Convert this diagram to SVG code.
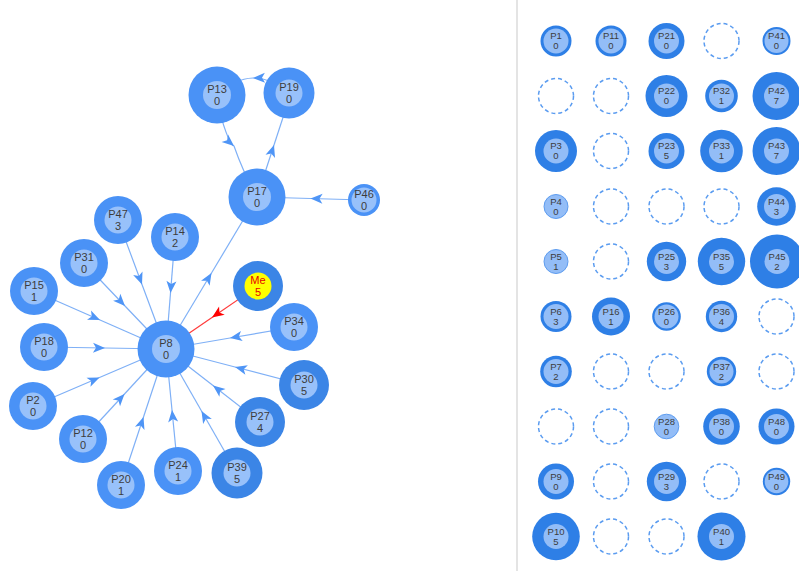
<svg xmlns="http://www.w3.org/2000/svg" width="799" height="571" viewBox="0 0 799 571">
<style>
text{font-family:"Liberation Sans",Arial,sans-serif;fill:#3c3c3c;text-anchor:middle}
.g text{font-size:11px}
.m text{font-size:9.5px}
.lo{fill:#4a92f6}
.ld{fill:#3b85e6}
.li{fill:#98c1fa}
.go{fill:#2e7fe6}
.gi{fill:#93bdf7}
.gs{fill:#93bdf7;stroke:#5d9cef;stroke-width:1}
.dash{fill:none;stroke:#5b9cf0;stroke-width:1.5;stroke-dasharray:4 3}
.e{fill:none;stroke:#7fb0f6;stroke-width:1.2;marker-mid:url(#ah)}
.er{fill:none;stroke:#ff3b3b;stroke-width:1.2;marker-mid:url(#ahr)}
.me text{fill:#e60000}
</style>
<defs>
<marker id="ah" viewBox="-13 -6 14 12" refX="0" refY="0" markerWidth="14" markerHeight="12" markerUnits="userSpaceOnUse" orient="auto">
<path d="M0,0 L-12,-5 L-9,0 L-12,5 Z" fill="#4f95f6"/>
</marker>
<marker id="ahr" viewBox="-13 -6 14 12" refX="0" refY="0" markerWidth="14" markerHeight="12" markerUnits="userSpaceOnUse" orient="auto">
<path d="M0,0 L-12,-5 L-9,0 L-12,5 Z" fill="#ff0000"/>
</marker>
</defs>
<rect width="799" height="571" fill="#ffffff"/>
<rect id="divider" x="516" y="0" width="2" height="571" fill="#e4e4e4"/>

<g id="connectors">
<path class="e" d="M118,220 L142,284.5 L166,349"/>
<path class="e" d="M175,237 L170.5,293 L166,349"/>
<path class="e" d="M84,263 L125,306 L166,349"/>
<path class="e" d="M34,291 L100,320 L166,349"/>
<path class="e" d="M44,347 L105,348 L166,349"/>
<path class="e" d="M33,406 L99.5,377.5 L166,349"/>
<path class="e" d="M83,439 L124.5,394 L166,349"/>
<path class="e" d="M121,485 L143.5,417 L166,349"/>
<path class="e" d="M178,471 L172,410 L166,349"/>
<path class="e" d="M237,473 L201.5,411 L166,349"/>
<path class="e" d="M260,422 L213,385.5 L166,349"/>
<path class="e" d="M304,385 L235,367 L166,349"/>
<path class="e" d="M294,327 L230,338 L166,349"/>
<path class="er" d="M258,286 L212,317.5 L166,349"/>
<path class="e" d="M166,349 L211.5,273 L257,197"/>
<path class="e" d="M364,200 L310.5,198.5 L257,197"/>
<path class="e" d="M215,95 Q228,145 234,146 Q243,172 257,197"/>
<path class="e" d="M257,197 L274,145 L291,93"/>
<path class="e" d="M289,93 Q271,77.5 253,78 Q235,78.5 217,95"/>
</g>

<g class="g">
<g id="node-P13"><circle class="lo" cx="217" cy="95" r="28.5"/><circle class="li" cx="217" cy="95" r="14"/><text x="217" y="92.5">P13</text><text x="217" y="104.5">0</text></g>
<g id="node-P19"><circle class="lo" cx="289" cy="93" r="25.5"/><circle class="li" cx="289" cy="93" r="13.5"/><text x="289" y="90.5">P19</text><text x="289" y="102.5">0</text></g>
<g id="node-P17"><circle class="lo" cx="257" cy="197" r="28.5"/><circle class="li" cx="257" cy="197" r="14"/><text x="257" y="194.5">P17</text><text x="257" y="206.5">0</text></g>
<g id="node-P46"><circle class="lo" cx="364" cy="200" r="16"/><circle class="li" cx="364" cy="200" r="12.5"/><text x="364" y="197.5">P46</text><text x="364" y="209.5">0</text></g>
<g id="node-P8"><circle class="lo" cx="166" cy="349" r="28.5"/><circle class="li" cx="166" cy="349" r="14"/><text x="166" y="346.5">P8</text><text x="166" y="358.5">0</text></g>
<g id="node-Me" class="me"><circle class="ld" cx="258" cy="286" r="25"/><circle fill="#ffff00" cx="258" cy="286" r="13.5"/><text x="258" y="283.5">Me</text><text x="258" y="295.5">5</text></g>
<g id="node-P34"><circle class="lo" cx="294" cy="327" r="24"/><circle class="li" cx="294" cy="327" r="13.5"/><text x="294" y="324.5">P34</text><text x="294" y="336.5">0</text></g>
<g id="node-P30"><circle class="ld" cx="304" cy="385" r="25"/><circle class="li" cx="304" cy="385" r="13.5"/><text x="304" y="382.5">P30</text><text x="304" y="394.5">5</text></g>
<g id="node-P27"><circle class="ld" cx="260" cy="422" r="25"/><circle class="li" cx="260" cy="422" r="13.5"/><text x="260" y="419.5">P27</text><text x="260" y="431.5">4</text></g>
<g id="node-P39"><circle class="ld" cx="237" cy="473" r="25.5"/><circle class="li" cx="237" cy="473" r="13.5"/><text x="237" y="470.5">P39</text><text x="237" y="482.5">5</text></g>
<g id="node-P24"><circle class="lo" cx="178" cy="471" r="24"/><circle class="li" cx="178" cy="471" r="13.5"/><text x="178" y="468.5">P24</text><text x="178" y="480.5">1</text></g>
<g id="node-P20"><circle class="lo" cx="121" cy="485" r="24"/><circle class="li" cx="121" cy="485" r="13.5"/><text x="121" y="482.5">P20</text><text x="121" y="494.5">1</text></g>
<g id="node-P12"><circle class="lo" cx="83" cy="439" r="24"/><circle class="li" cx="83" cy="439" r="13.5"/><text x="83" y="436.5">P12</text><text x="83" y="448.5">0</text></g>
<g id="node-P2"><circle class="lo" cx="33" cy="406" r="24"/><circle class="li" cx="33" cy="406" r="13.5"/><text x="33" y="403.5">P2</text><text x="33" y="415.5">0</text></g>
<g id="node-P18"><circle class="lo" cx="44" cy="347" r="24"/><circle class="li" cx="44" cy="347" r="13.5"/><text x="44" y="344.5">P18</text><text x="44" y="356.5">0</text></g>
<g id="node-P15"><circle class="lo" cx="34" cy="291" r="24"/><circle class="li" cx="34" cy="291" r="13.5"/><text x="34" y="288.5">P15</text><text x="34" y="300.5">1</text></g>
<g id="node-P31"><circle class="lo" cx="84" cy="263" r="24"/><circle class="li" cx="84" cy="263" r="13.5"/><text x="84" y="260.5">P31</text><text x="84" y="272.5">0</text></g>
<g id="node-P47"><circle class="lo" cx="118" cy="220" r="24"/><circle class="li" cx="118" cy="220" r="13.5"/><text x="118" y="217.5">P47</text><text x="118" y="229.5">3</text></g>
<g id="node-P14"><circle class="lo" cx="175" cy="237" r="24"/><circle class="li" cx="175" cy="237" r="13.5"/><text x="175" y="234.5">P14</text><text x="175" y="246.5">2</text></g>
</g>

<g class="m">
<g id="grid-P1"><circle class="go" cx="556" cy="41" r="15.5"/><circle class="gi" cx="556" cy="41" r="12.5"/><text x="556" y="39">P1</text><text x="556" y="49">0</text></g>
<g id="grid-P11"><circle class="go" cx="611" cy="41" r="15.5"/><circle class="gi" cx="611" cy="41" r="12.5"/><text x="611" y="39">P11</text><text x="611" y="49">0</text></g>
<g id="grid-P21"><circle class="go" cx="666.5" cy="41" r="18"/><circle class="gi" cx="666.5" cy="41" r="12.5"/><text x="666.5" y="39">P21</text><text x="666.5" y="49">0</text></g>
<circle class="dash" cx="721.5" cy="41" r="17.5"/>
<g id="grid-P41"><circle class="go" cx="776.5" cy="41" r="14"/><circle class="gi" cx="776.5" cy="41" r="12"/><text x="776.5" y="39">P41</text><text x="776.5" y="49">0</text></g>

<circle class="dash" cx="556" cy="96" r="17.5"/>
<circle class="dash" cx="611" cy="96" r="17.5"/>
<g id="grid-P22"><circle class="go" cx="666.5" cy="96" r="21"/><circle class="gi" cx="666.5" cy="96" r="12.5"/><text x="666.5" y="94">P22</text><text x="666.5" y="104">0</text></g>
<g id="grid-P32"><circle class="go" cx="721.5" cy="96" r="16.3"/><circle class="gi" cx="721.5" cy="96" r="12.5"/><text x="721.5" y="94">P32</text><text x="721.5" y="104">1</text></g>
<g id="grid-P42"><circle class="go" cx="776.5" cy="96" r="24"/><circle class="gi" cx="776.5" cy="96" r="12.5"/><text x="776.5" y="94">P42</text><text x="776.5" y="104">7</text></g>

<g id="grid-P3"><circle class="go" cx="556" cy="151" r="21"/><circle class="gi" cx="556" cy="151" r="12.5"/><text x="556" y="149">P3</text><text x="556" y="159">0</text></g>
<circle class="dash" cx="611" cy="151" r="17.5"/>
<g id="grid-P23"><circle class="go" cx="666.5" cy="151" r="18"/><circle class="gi" cx="666.5" cy="151" r="12.5"/><text x="666.5" y="149">P23</text><text x="666.5" y="159">5</text></g>
<g id="grid-P33"><circle class="go" cx="721.5" cy="151" r="21.3"/><circle class="gi" cx="721.5" cy="151" r="12.5"/><text x="721.5" y="149">P33</text><text x="721.5" y="159">1</text></g>
<g id="grid-P43"><circle class="go" cx="776.5" cy="151" r="24"/><circle class="gi" cx="776.5" cy="151" r="12.5"/><text x="776.5" y="149">P43</text><text x="776.5" y="159">7</text></g>

<g id="grid-P4"><circle class="gs" cx="556" cy="206.5" r="12"/><text x="556" y="204.5">P4</text><text x="556" y="214.5">0</text></g>
<circle class="dash" cx="611" cy="206.5" r="17.5"/>
<circle class="dash" cx="666.5" cy="206.5" r="17.5"/>
<circle class="dash" cx="721.5" cy="206.5" r="17.5"/>
<g id="grid-P44"><circle class="go" cx="776.5" cy="206.5" r="19.3"/><circle class="gi" cx="776.5" cy="206.5" r="12.5"/><text x="776.5" y="204.5">P44</text><text x="776.5" y="214.5">3</text></g>

<g id="grid-P5"><circle class="gs" cx="556" cy="261.5" r="12"/><text x="556" y="259.5">P5</text><text x="556" y="269.5">1</text></g>
<circle class="dash" cx="611" cy="261.5" r="17.5"/>
<g id="grid-P25"><circle class="go" cx="666.5" cy="261.5" r="19.7"/><circle class="gi" cx="666.5" cy="261.5" r="12.5"/><text x="666.5" y="259.5">P25</text><text x="666.5" y="269.5">3</text></g>
<g id="grid-P35"><circle class="go" cx="721.5" cy="261.5" r="23.7"/><circle class="gi" cx="721.5" cy="261.5" r="12.5"/><text x="721.5" y="259.5">P35</text><text x="721.5" y="269.5">5</text></g>
<g id="grid-P45"><circle class="go" cx="777" cy="261.5" r="27"/><circle class="gi" cx="777" cy="261.5" r="12.5"/><text x="777" y="259.5">P45</text><text x="777" y="269.5">2</text></g>

<g id="grid-P6"><circle class="go" cx="556" cy="316.5" r="15.5"/><circle class="gi" cx="556" cy="316.5" r="12.5"/><text x="556" y="314.5">P6</text><text x="556" y="324.5">3</text></g>
<g id="grid-P16"><circle class="go" cx="611" cy="316.5" r="19"/><circle class="gi" cx="611" cy="316.5" r="12.5"/><text x="611" y="314.5">P16</text><text x="611" y="324.5">1</text></g>
<g id="grid-P26"><circle class="go" cx="666.5" cy="316.5" r="14.3"/><circle class="gi" cx="666.5" cy="316.5" r="12"/><text x="666.5" y="314.5">P26</text><text x="666.5" y="324.5">0</text></g>
<g id="grid-P36"><circle class="go" cx="721.5" cy="316.5" r="15.7"/><circle class="gi" cx="721.5" cy="316.5" r="12.5"/><text x="721.5" y="314.5">P36</text><text x="721.5" y="324.5">4</text></g>
<circle class="dash" cx="776.5" cy="316.5" r="17.5"/>

<g id="grid-P7"><circle class="go" cx="556" cy="371.5" r="15.8"/><circle class="gi" cx="556" cy="371.5" r="12.5"/><text x="556" y="369.5">P7</text><text x="556" y="379.5">2</text></g>
<circle class="dash" cx="611" cy="371.5" r="17.5"/>
<circle class="dash" cx="666.5" cy="371.5" r="17.5"/>
<g id="grid-P37"><circle class="go" cx="721.5" cy="371.5" r="14.7"/><circle class="gi" cx="721.5" cy="371.5" r="12"/><text x="721.5" y="369.5">P37</text><text x="721.5" y="379.5">2</text></g>
<circle class="dash" cx="776.5" cy="371.5" r="17.5"/>

<circle class="dash" cx="556" cy="426.5" r="17.5"/>
<circle class="dash" cx="611" cy="426.5" r="17.5"/>
<g id="grid-P28"><circle class="gs" cx="666.5" cy="426.5" r="12.3"/><text x="666.5" y="424.5">P28</text><text x="666.5" y="434.5">0</text></g>
<g id="grid-P38"><circle class="go" cx="721.5" cy="426.5" r="18.3"/><circle class="gi" cx="721.5" cy="426.5" r="12.5"/><text x="721.5" y="424.5">P38</text><text x="721.5" y="434.5">0</text></g>
<g id="grid-P48"><circle class="go" cx="776.5" cy="426.5" r="18"/><circle class="gi" cx="776.5" cy="426.5" r="12.5"/><text x="776.5" y="424.5">P48</text><text x="776.5" y="434.5">0</text></g>

<g id="grid-P9"><circle class="go" cx="556" cy="481.5" r="18"/><circle class="gi" cx="556" cy="481.5" r="12.5"/><text x="556" y="479.5">P9</text><text x="556" y="489.5">0</text></g>
<circle class="dash" cx="611" cy="481.5" r="17.5"/>
<g id="grid-P29"><circle class="go" cx="666.5" cy="481.5" r="19.7"/><circle class="gi" cx="666.5" cy="481.5" r="12.5"/><text x="666.5" y="479.5">P29</text><text x="666.5" y="489.5">3</text></g>
<circle class="dash" cx="721.5" cy="481.5" r="17.5"/>
<g id="grid-P49"><circle class="go" cx="776.5" cy="481.5" r="13.7"/><circle class="gi" cx="776.5" cy="481.5" r="11.8"/><text x="776.5" y="479.5">P49</text><text x="776.5" y="489.5">0</text></g>

<g id="grid-P10"><circle class="go" cx="556" cy="536.5" r="23.8"/><circle class="gi" cx="556" cy="536.5" r="12.5"/><text x="556" y="534.5">P10</text><text x="556" y="544.5">5</text></g>
<circle class="dash" cx="611" cy="536.5" r="17.5"/>
<circle class="dash" cx="666.5" cy="536.5" r="17.5"/>
<g id="grid-P40"><circle class="go" cx="721.5" cy="536.5" r="24"/><circle class="gi" cx="721.5" cy="536.5" r="12.5"/><text x="721.5" y="534.5">P40</text><text x="721.5" y="544.5">1</text></g>
</g>
</svg>
